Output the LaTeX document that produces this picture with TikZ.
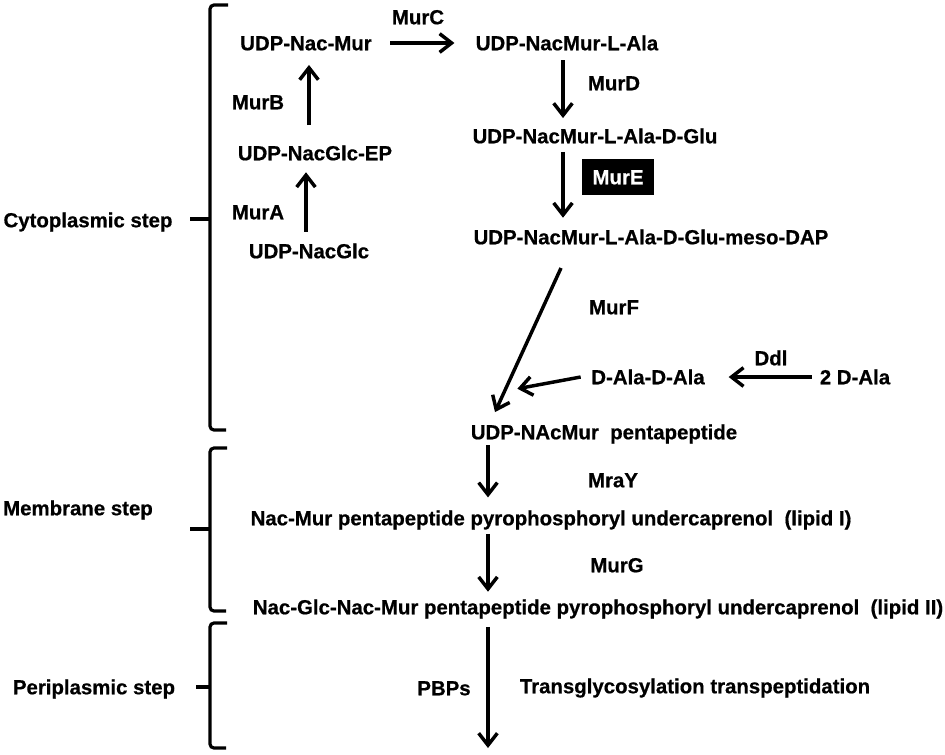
\documentclass[tikz,border=0pt]{standalone}
\usepackage{fontspec}
\setmainfont{Liberation Sans}[BoldFeatures={FakeBold=0.6}]
\usetikzlibrary{arrows.meta}
\begin{document}
\begin{tikzpicture}[x=0.75pt,y=-0.75pt,
  every node/.style={font=\fontsize{15.3}{18}\selectfont\bfseries, inner sep=0pt, outer sep=0pt, text height=10.9pt, text depth=0pt},
  arr/.style={line width=2.6pt, -{Straight Barb[length=9pt,width=14pt,line width=2.6pt]}},
  brace/.style={line width=2.4pt, rounded corners=3pt},
  stub/.style={line width=2.4pt},
  enzbox/.style={fill=black, text=white, minimum width=54pt, minimum height=27pt}
  ]
\useasboundingbox (0,0) rectangle (945,754);
% side labels
\node (cyto) at (88,220) {Cytoplasmic step};
\node (memb) at (78,508) {Membrane step};
\node (peri) at (94,687) {Periplasmic step};
% braces
\draw[brace] (228,5) -- (210,5) -- (210,430) -- (226,430);
\draw[stub] (190,219) -- (210,219);
\draw[brace] (227,448) -- (210,448) -- (210,611) -- (226,611);
\draw[stub] (190,529) -- (210,529);
\draw[brace] (227,623) -- (210,623) -- (210,748) -- (226,748);
\draw[stub] (196,687) -- (210,687);
% metabolites
\node (nm) at (306,43) {UDP-Nac-Mur};
\node (nma) at (567,43) {UDP-NacMur-L-Ala};
\node (nmad) at (595,136) {UDP-NacMur-L-Ala-D-Glu};
\node (dap) at (651,237) {UDP-NacMur-L-Ala-D-Glu-meso-DAP};
\node (dala) at (648,377) {D-Ala-D-Ala};
\node (twodala) at (855,377) {2 D-Ala};
\node (penta) at (604,432) {UDP-NAcMur\ \ pentapeptide};
\node (lip1) at (551,518) {Nac-Mur pentapeptide pyrophosphoryl undercaprenol\ \ (lipid I)};
\node (lip2) at (598,607) {Nac-Glc-Nac-Mur pentapeptide pyrophosphoryl undercaprenol\ \ (lipid II)};
\node (ep) at (315,153) {UDP-NacGlc-EP};
\node (acg) at (309,251) {UDP-NacGlc};
% enzymes
\node (murc) at (418,17) {MurC};
\node (murd) at (614,83) {MurD};
\node[enzbox] (mure) at (618,177) {MurE};
\node (murf) at (614,307) {MurF};
\node (ddl) at (771,358) {Ddl};
\node (mray) at (613,480) {MraY};
\node (murg) at (617,565) {MurG};
\node (pbps) at (444,688) {PBPs};
\node (trans) at (695,686) {Transglycosylation transpeptidation};
\node (murb) at (258,102) {MurB};
\node (mura) at (258,212) {MurA};
% arrows
\draw[arr, shorten <=9pt, shorten >=9pt] (acg.north -| 306,0) -- (ep.south -| 306,0);
\draw[arr, shorten <=15.5pt, shorten >=11pt] (ep.north -| 309,0) -- (nm.south -| 309,0);
\draw[arr, shorten <=14pt, shorten >=16pt] (nm.east) -- (nma.west);
\draw[arr, shorten <=7.5pt, shorten >=8pt] (nma.south -| 563,0) -- (nmad.north -| 563,0);
\draw[arr, shorten <=6.5pt, shorten >=9pt] (nmad.south -| 563,0) -- (dap.north -| 563,0);
\draw[arr] ([xshift=-67.5pt,yshift=-17.8pt]dap.south) -- ([xshift=-81.75pt,yshift=9.5pt]penta.north);
\draw[arr] ([xshift=-8pt]dala.west) -- ([xshift=-65pt,yshift=27pt]penta.north);
\draw[arr, shorten <=6pt, shorten >=18pt] (twodala.west) -- (dala.east);
\draw[arr, shorten <=4.5pt, shorten >=10pt] (penta.south -| 488,0) -- (lip1.north -| 488,0);
\draw[arr, shorten <=6.5pt, shorten >=6pt] (lip1.south -| 488,0) -- (lip2.north -| 488,0);
\coordinate (pend) at (488,748);
\draw[arr, shorten <=9.5pt] (lip2.south -| 488,0) -- (pend);
\end{tikzpicture}
\end{document}
